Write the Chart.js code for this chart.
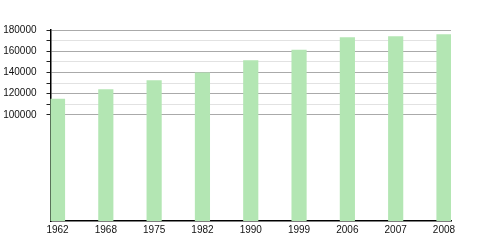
<!DOCTYPE html>
<html>
<head>
<meta charset="utf-8">
<script src="https://cdn.jsdelivr.net/npm/chart.js@4/dist/chart.umd.min.js"></script>
<style>
html,body{margin:0;padding:0;background:#fff;}
#wrap{width:500px;height:250px;position:relative;}
</style>
</head>
<body>
<div id="wrap"><canvas id="c" width="500" height="250"></canvas></div>
<script>
const categories = ["1962","1968","1975","1982","1990","1999","2006","2007","2008"];
const population = [115000,123900,132400,139600,151200,161000,172900,173900,175700];
const yTicks = [100000,110000,120000,130000,140000,150000,160000,170000,180000];

const points = categories.map((c,i)=>({x:i, y:population[i]}));

new Chart(document.getElementById('c'), {
  type: 'bar',
  data: {
    datasets: [{
      data: points,
      backgroundColor: '#b3e6b3',
      borderWidth: 0,
      barThickness: 14.5
    }]
  },
  options: {
    responsive: false,
    animation: false,
    devicePixelRatio: 1,
    layout: { padding: { top: 30, right: 49, left: 0, bottom: 0 } },
    plugins: { legend: { display: false }, tooltip: { enabled: false } },
    scales: {
      x: {
        type: 'linear',
        offset: false,
        min: -0.145,
        max: 8.145,
        afterBuildTicks: s => { s.ticks = categories.map((c,i)=>({value:i})); },
        afterFit: s => { s.height = 29; },
        grid: { display: false, drawTicks: false, tickLength: 0 },
        border: { display: true, color: '#000', width: 1.5 },
        ticks: {
          autoSkip: false,
          maxRotation: 0,
          padding: 3,
          color: '#111',
          font: { family: '"Liberation Sans", Arial, sans-serif', size: 10 },
          callback: v => categories[v]
        }
      },
      y: {
        min: 0,
        max: 180000,
        afterBuildTicks: s => { s.ticks = yTicks.map(v=>({value:v})); },
        afterFit: s => { s.width = 50.5; },
        grid: {
          color: ctx => (ctx.tick && ctx.tick.value % 20000 === 0) ? '#aaaaaa' : '#e2e2e2',
          tickColor: '#222',
          tickLength: 4,
          lineWidth: 1
        },
        border: { display: true, color: '#000', width: 1.5 },
        ticks: {
          padding: 10,
          color: '#111',
          font: { family: '"Liberation Sans", Arial, sans-serif', size: 10 },
          callback: v => (v % 20000 === 0 ? String(v) : '')
        }
      }
    }
  }
});
</script>
</body>
</html>
